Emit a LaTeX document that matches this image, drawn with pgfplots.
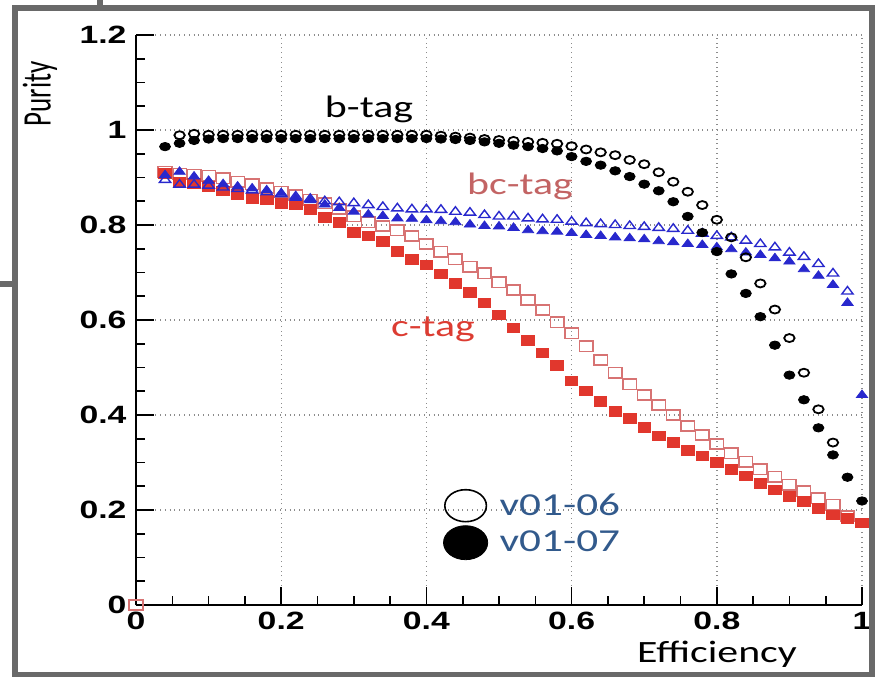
\documentclass[border=0pt]{standalone}
\usepackage{pgfplots}
\pgfplotsset{compat=1.18}
\usepackage{fontspec}
\setmainfont{Carlito}
\newfontfamily\ticksf{Liberation Sans}
\definecolor{framegray}{RGB}{105,105,105}
\definecolor{bblue}{RGB}{40,40,205}
\definecolor{cred}{RGB}{225,55,45}
\definecolor{cpink}{RGB}{215,115,115}
\definecolor{bclab}{RGB}{195,100,100}
\definecolor{clab}{RGB}{220,60,50}
\definecolor{legtxt}{RGB}{50,90,140}
\begin{document}
\begin{tikzpicture}
\path[use as bounding box] (0,0) rectangle (438pt,338pt);
\begin{axis}[
  at={(68pt,35.5pt)}, anchor=south west,
  scale only axis, width=363pt, height=285pt,
  xmin=0, xmax=1, ymin=0, ymax=1.2,
  axis x line*=bottom, axis y line*=left,
  axis line style={line width=0.9pt, black},
  xtick={0,0.2,0.4,0.6,0.8,1}, ytick={0,0.2,0.4,0.6,0.8,1,1.2},
  minor x tick num=3, minor y tick num=3,
  tick align=inside, major tick length=9pt, minor tick length=4.5pt,
  tick style={line width=0.8pt, black},
  grid=major, major grid style={dotted, line width=0.7pt, black!45},
  /pgf/number format/fixed, /pgf/number format/assume math mode=true,
  tick label style={font=\ticksf\bfseries\fontsize{12.5}{14}\selectfont, xscale=1.35},
  xlabel={\scalebox{1.35}[1]{Efficiency}},
  xlabel style={at={(axis description cs:0.8003,-0.10)}, anchor=base, font=\fontsize{15.5}{18}\selectfont},
  ylabel={\scalebox{1}[1.5]{Purity}},
  ylabel style={at={(axis description cs:-0.1322,0.8965)}, anchor=center, font=\fontsize{13.5}{15}\selectfont},
  legend style={at={(axis description cs:0.423,0.203)}, anchor=north west, draw=none, fill=none,
    inner sep=0pt, nodes={inner sep=1pt}, row sep=2pt,
    /tikz/every odd column/.append style={column sep=5pt},
    font=\fontsize{16}{18}\selectfont\color{legtxt}},
  legend cell align=left,
  clip=false,
]
% c-tag v01-06 (open squares)
\addplot[forget plot, only marks, mark=square, mark size=2.6pt, mark options={xscale=1.3, draw=cpink, line width=0.8pt}] coordinates {
(0,0) (0.04,0.912) (0.06,0.908) (0.08,0.906) (0.10,0.904) (0.12,0.898) (0.14,0.891) (0.16,0.886) (0.18,0.877) (0.20,0.870)
(0.22,0.863) (0.24,0.853) (0.26,0.846) (0.28,0.834) (0.30,0.818) (0.32,0.806) (0.34,0.798) (0.36,0.789) (0.38,0.777) (0.40,0.760)
(0.42,0.744) (0.44,0.728) (0.46,0.712) (0.48,0.698) (0.50,0.679) (0.52,0.663) (0.54,0.642) (0.56,0.621) (0.58,0.595) (0.60,0.572)
(0.62,0.545) (0.64,0.516) (0.66,0.489) (0.68,0.465) (0.70,0.442) (0.72,0.421) (0.74,0.400) (0.76,0.377) (0.78,0.358) (0.80,0.339)
(0.82,0.319) (0.84,0.302) (0.86,0.286) (0.88,0.270) (0.90,0.253) (0.92,0.239) (0.94,0.225) (0.96,0.211) (0.98,0.187)};
% c-tag v01-07 (filled squares)
\addplot[forget plot, only marks, mark=square*, mark size=2.4pt, mark options={xscale=1.3, draw=cred, fill=cred}] coordinates {
(0.04,0.909) (0.06,0.891) (0.08,0.888) (0.10,0.881) (0.12,0.872) (0.14,0.865) (0.16,0.856) (0.18,0.853) (0.20,0.846)
(0.22,0.842) (0.24,0.833) (0.26,0.816) (0.28,0.805) (0.30,0.785) (0.32,0.777) (0.34,0.765) (0.36,0.745) (0.38,0.728) (0.40,0.716)
(0.42,0.697) (0.44,0.677) (0.46,0.658) (0.48,0.636) (0.50,0.611) (0.52,0.583) (0.54,0.557) (0.56,0.531) (0.58,0.504) (0.60,0.472)
(0.62,0.451) (0.64,0.429) (0.66,0.407) (0.68,0.393) (0.70,0.374) (0.72,0.356) (0.74,0.342) (0.76,0.325) (0.78,0.314) (0.80,0.300)
(0.82,0.286) (0.84,0.272) (0.86,0.256) (0.88,0.242) (0.90,0.229) (0.92,0.218) (0.94,0.204) (0.96,0.190) (0.98,0.182) (1.00,0.173)};
% bc-tag v01-06 (open triangles)
\addplot[forget plot, only marks, mark=triangle, mark size=2.5pt, mark options={xscale=1.3, draw=bblue, line width=0.7pt}] coordinates {
(0.04,0.895) (0.06,0.885) (0.08,0.885) (0.10,0.883) (0.12,0.879) (0.14,0.876) (0.16,0.873) (0.18,0.869) (0.20,0.865)
(0.22,0.860) (0.24,0.855) (0.26,0.850) (0.28,0.848) (0.30,0.846) (0.32,0.842) (0.34,0.838) (0.36,0.835) (0.38,0.833) (0.40,0.833)
(0.42,0.832) (0.44,0.828) (0.46,0.826) (0.48,0.821) (0.50,0.818) (0.52,0.818) (0.54,0.814) (0.56,0.812) (0.58,0.811) (0.60,0.807)
(0.62,0.804) (0.64,0.802) (0.66,0.800) (0.68,0.798) (0.70,0.796) (0.72,0.794) (0.74,0.792) (0.76,0.788) (0.78,0.782) (0.80,0.777)
(0.82,0.774) (0.84,0.767) (0.86,0.760) (0.88,0.753) (0.90,0.742) (0.92,0.733) (0.94,0.718) (0.96,0.698) (0.98,0.660)};
% bc-tag v01-07 (filled triangles)
\addplot[forget plot, only marks, mark=triangle*, mark size=2.5pt, mark options={xscale=1.3, draw=bblue, fill=bblue}] coordinates {
(0.04,0.905) (0.06,0.912) (0.08,0.902) (0.10,0.893) (0.12,0.886) (0.14,0.881) (0.16,0.877) (0.18,0.873) (0.20,0.867)
(0.22,0.857) (0.24,0.852) (0.26,0.843) (0.28,0.836) (0.30,0.828) (0.32,0.822) (0.34,0.819) (0.36,0.814) (0.38,0.813) (0.40,0.810)
(0.42,0.808) (0.44,0.806) (0.46,0.801) (0.48,0.798) (0.50,0.797) (0.52,0.794) (0.54,0.789) (0.56,0.787) (0.58,0.786) (0.60,0.783)
(0.62,0.779) (0.64,0.777) (0.66,0.774) (0.68,0.772) (0.70,0.770) (0.72,0.766) (0.74,0.764) (0.76,0.760) (0.78,0.758) (0.80,0.753)
(0.82,0.749) (0.84,0.742) (0.86,0.737) (0.88,0.730) (0.90,0.723) (0.92,0.707) (0.94,0.693) (0.96,0.674) (0.98,0.636) (1.00,0.442)};
% b-tag v01-06 (open circles)
\addplot[forget plot, only marks, mark=o, mark size=2.0pt, mark options={xscale=1.3, draw=black, line width=0.9pt}] coordinates {
(0.06,0.989) (0.08,0.992) (0.10,0.990) (0.12,0.990) (0.14,0.990) (0.16,0.990) (0.18,0.990) (0.20,0.990)
(0.22,0.990) (0.24,0.990) (0.26,0.990) (0.28,0.990) (0.30,0.990) (0.32,0.990) (0.34,0.990) (0.36,0.990) (0.38,0.990) (0.40,0.990)
(0.42,0.988) (0.44,0.986) (0.46,0.984) (0.48,0.981) (0.50,0.979) (0.52,0.977) (0.54,0.975) (0.56,0.973) (0.58,0.971) (0.60,0.966)
(0.62,0.959) (0.64,0.953) (0.66,0.947) (0.68,0.937) (0.70,0.928) (0.72,0.911) (0.74,0.891) (0.76,0.870) (0.78,0.842) (0.80,0.811)
(0.82,0.774) (0.84,0.732) (0.86,0.677) (0.88,0.622) (0.90,0.562) (0.92,0.489) (0.94,0.412) (0.96,0.342)};
% b-tag v01-07 (filled circles)
\addplot[forget plot, only marks, mark=*, mark size=2.1pt, mark options={xscale=1.3, draw=black, fill=black}] coordinates {
(0.04,0.965) (0.06,0.972) (0.08,0.978) (0.10,0.981) (0.12,0.982) (0.14,0.982) (0.16,0.982) (0.18,0.982) (0.20,0.982)
(0.22,0.982) (0.24,0.982) (0.26,0.982) (0.28,0.982) (0.30,0.982) (0.32,0.982) (0.34,0.982) (0.36,0.982) (0.38,0.982) (0.40,0.982)
(0.42,0.981) (0.44,0.980) (0.46,0.978) (0.48,0.975) (0.50,0.972) (0.52,0.968) (0.54,0.965) (0.56,0.961) (0.58,0.956) (0.60,0.944)
(0.62,0.934) (0.64,0.926) (0.66,0.914) (0.68,0.902) (0.70,0.886) (0.72,0.872) (0.74,0.849) (0.76,0.818) (0.78,0.784) (0.80,0.744)
(0.82,0.697) (0.84,0.656) (0.86,0.607) (0.88,0.547) (0.90,0.484) (0.92,0.432) (0.94,0.373) (0.96,0.316) (0.98,0.269) (1.00,0.219)};
\addlegendimage{only marks, mark=o, mark size=8pt, mark options={xscale=1.3, draw=black, line width=0.8pt}}
\addlegendentry{\scalebox{1.35}[1]{v01-06}}
\addlegendimage{only marks, mark=*, mark size=8.5pt, mark options={xscale=1.3, draw=black, fill=black}}
\addlegendentry{\scalebox{1.35}[1]{v01-07}}
\end{axis}
\node[anchor=base, font=\fontsize{15.5}{18}\selectfont, text=black] at (184.5pt,279pt) {\scalebox{1.35}[1]{b-tag}};
\node[anchor=base, font=\fontsize{15.5}{18}\selectfont, text=bclab] at (260pt,241pt) {\scalebox{1.35}[1]{bc-tag}};
\node[anchor=base, font=\fontsize{15.5}{18}\selectfont, text=clab] at (216.5pt,170pt) {\scalebox{1.35}[1]{c-tag}};
\draw[framegray, line width=3pt] (7.5pt,334pt) rectangle (436pt,0.5pt);
\draw[framegray, line width=3pt] (50pt,338pt) -- (50pt,334pt);
\draw[framegray, line width=3pt] (0pt,196pt) -- (7.5pt,196pt);
\end{tikzpicture}
\end{document}
